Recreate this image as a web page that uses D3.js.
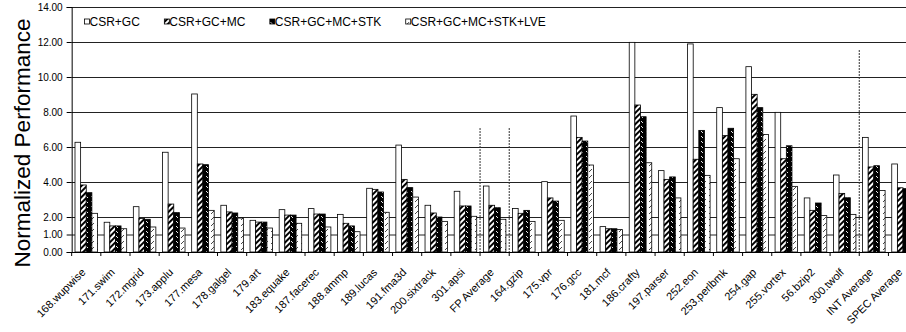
<!DOCTYPE html>
<html><head><meta charset="utf-8">
<script src="https://cdn.jsdelivr.net/npm/d3@7"></script>
<style>
body{margin:0;background:#fff;}
text{font-family:"Liberation Sans",Arial,sans-serif;fill:#000;}
</style></head>
<body><svg id="c" width="906" height="332"></svg>
<script>
const categories = ["168.wupwise","171.swim","172.mgrid","173.applu","177.mesa","178.galgel","179.art","183.equake","187.facerec","188.ammp","189.lucas","191.fma3d","200.sixtrack","301.apsi","FP Average","164.gzip","175.vpr","176.gcc","181.mcf","186.crafty","197.parser","252.eon","253.perlbmk","254.gap","255.vortex","56.bzip2","300.twolf","INT Average","SPEC Average"];
const seriesNames = ["CSR+GC","CSR+GC+MC","CSR+GC+MC+STK","CSR+GC+MC+STK+LVE"];
const csrGC      = [6.27,1.70,2.59,5.70,9.03,2.67,1.81,2.42,2.48,2.15,3.64,6.11,2.67,3.47,3.77,2.49,4.02,7.77,1.45,11.98,4.65,11.89,8.25,10.59,7.98,3.09,4.40,6.55,5.03];
const csrGCMC    = [3.83,1.49,1.92,2.74,5.03,2.29,1.71,2.11,2.17,1.64,3.58,4.15,2.23,2.63,2.67,2.21,3.09,6.55,1.33,8.40,4.15,5.30,6.65,9.01,5.33,2.38,3.35,4.86,3.67];
const csrGCMCSTK = [3.39,1.49,1.87,2.25,4.99,2.23,1.71,2.11,2.17,1.49,3.43,3.68,2.00,2.63,2.53,2.38,2.91,6.34,1.33,7.73,4.29,6.95,7.07,8.25,6.07,2.80,3.10,4.93,3.62];
const csrGCMCSTKLVE = [2.21,1.33,1.43,1.37,2.38,1.94,1.37,1.64,1.43,1.16,2.27,3.14,1.75,2.04,1.87,1.75,1.81,4.97,1.28,5.10,3.09,4.38,5.33,6.72,3.75,2.08,2.15,3.52,2.70];
const yTicks = [0,1,2,4,6,8,10,12,14];

const seriesData = [csrGC, csrGCMC, csrGCMCSTK, csrGCMCSTKLVE];
const svg = d3.select("#c");
const left = 71.67, catW = 29.17;
const x0 = d3.scaleBand().domain(categories).range([left, left + catW*categories.length]).padding(0);
const gw = x0.bandwidth()*0.772;
const x1 = d3.scaleBand().domain(seriesNames).range([(x0.bandwidth()-gw)/2, (x0.bandwidth()+gw)/2]).padding(0);
const y = d3.scaleLinear().domain([0,14]).range([252,7]);
const right = 906;

// patterns
const defs = svg.append("defs");
const p1 = defs.append("pattern").attr("id","p1").attr("patternUnits","userSpaceOnUse").attr("width",4).attr("height",4).attr("patternTransform","rotate(45)");
p1.append("rect").attr("width",4).attr("height",4).attr("fill","#fff");
p1.append("rect").attr("width",2).attr("height",4).attr("fill","#000");
const p2 = defs.append("pattern").attr("id","p2").attr("patternUnits","userSpaceOnUse").attr("width",5).attr("height",5);
p2.append("rect").attr("width",5).attr("height",5).attr("fill","#000");
p2.append("path").attr("d","M1,1 L3,3").attr("stroke","#fff").attr("stroke-width",0.9);
const p3 = defs.append("pattern").attr("id","p3").attr("patternUnits","userSpaceOnUse").attr("width",6).attr("height",6);
p3.append("rect").attr("width",6).attr("height",6).attr("fill","#fff");
p3.append("path").attr("d","M1,4 L4,1").attr("stroke","#333").attr("stroke-width",0.9);
const fills = ["#fff","url(#p1)","url(#p2)","url(#p3)"];

// gridlines
svg.append("g").selectAll("line").data(yTicks.filter(d=>d>0)).join("line")
  .attr("x1",left).attr("x2",right).attr("y1",d=>y(d)+0.5).attr("y2",d=>y(d)+0.5)
  .attr("stroke","#222").attr("stroke-width",1);

// y axis
const ya = svg.append("g").attr("transform",`translate(${left},0)`)
  .call(d3.axisLeft(y).tickValues(yTicks).tickFormat(d3.format(".2f")).tickSize(5).tickPadding(4));
ya.select(".domain").attr("stroke","#000");
ya.selectAll("text").attr("font-size","10px").attr("font-family","Liberation Sans, Arial, sans-serif").attr("fill","#000");
ya.selectAll("line").attr("stroke","#000");

// dividers
svg.append("g").selectAll("line").data([
  {x:x0("FP Average"), top:128},
  {x:x0("FP Average")+x0.bandwidth(), top:128},
  {x:x0("INT Average"), top:50}]).join("line")
  .attr("x1",d=>d.x).attr("x2",d=>d.x).attr("y1",d=>d.top).attr("y2",y(0))
  .attr("stroke","#333").attr("stroke-width",1).attr("stroke-dasharray","2,1");

// bars
const g = svg.append("g");
categories.forEach((c,i)=>{
  seriesNames.forEach((s,j)=>{
    const v = seriesData[j][i];
    g.append("rect").attr("x",x0(c)+x1(s)).attr("y",y(v)).attr("width",x1.bandwidth()).attr("height",y(0)-y(v))
     .attr("fill",fills[j]).attr("stroke","#000").attr("stroke-width",0.8);
  });
});

// x axis
svg.append("line").attr("x1",left).attr("x2",right).attr("y1",y(0)+0.5).attr("y2",y(0)+0.5).attr("stroke","#000");
svg.append("g").selectAll("line").data(categories).join("line")
  .attr("x1",d=>x0(d)).attr("x2",d=>x0(d)).attr("y1",y(0)).attr("y2",y(0)+4).attr("stroke","#000");
svg.append("g").selectAll("text").data(categories).join("text")
  .attr("transform",d=>`translate(${x0(d)+x0.bandwidth()/2},${y(0)+21}) rotate(-45)`)
  .attr("text-anchor","end").attr("font-size","11px").text(d=>d);

// y title
svg.append("text").attr("transform","translate(30,143) rotate(-90)").attr("text-anchor","middle")
  .attr("font-size","22.5px").text("Normalized Performance");

// legend
let lx = 84;
seriesNames.forEach((s,j)=>{
  const lg = svg.append("g").attr("transform",`translate(${lx},21)`);
  lg.append("rect").attr("x",0.5).attr("y",-2).attr("width",5).attr("height",5).attr("fill",fills[j]).attr("stroke","#000").attr("stroke-width",0.8);
  const t = lg.append("text").attr("x",5.5).attr("y",4.5).attr("font-size","12px").text(s);
  lx += 5.5 + t.node().getComputedTextLength() + 24;
});
</script></body></html>
